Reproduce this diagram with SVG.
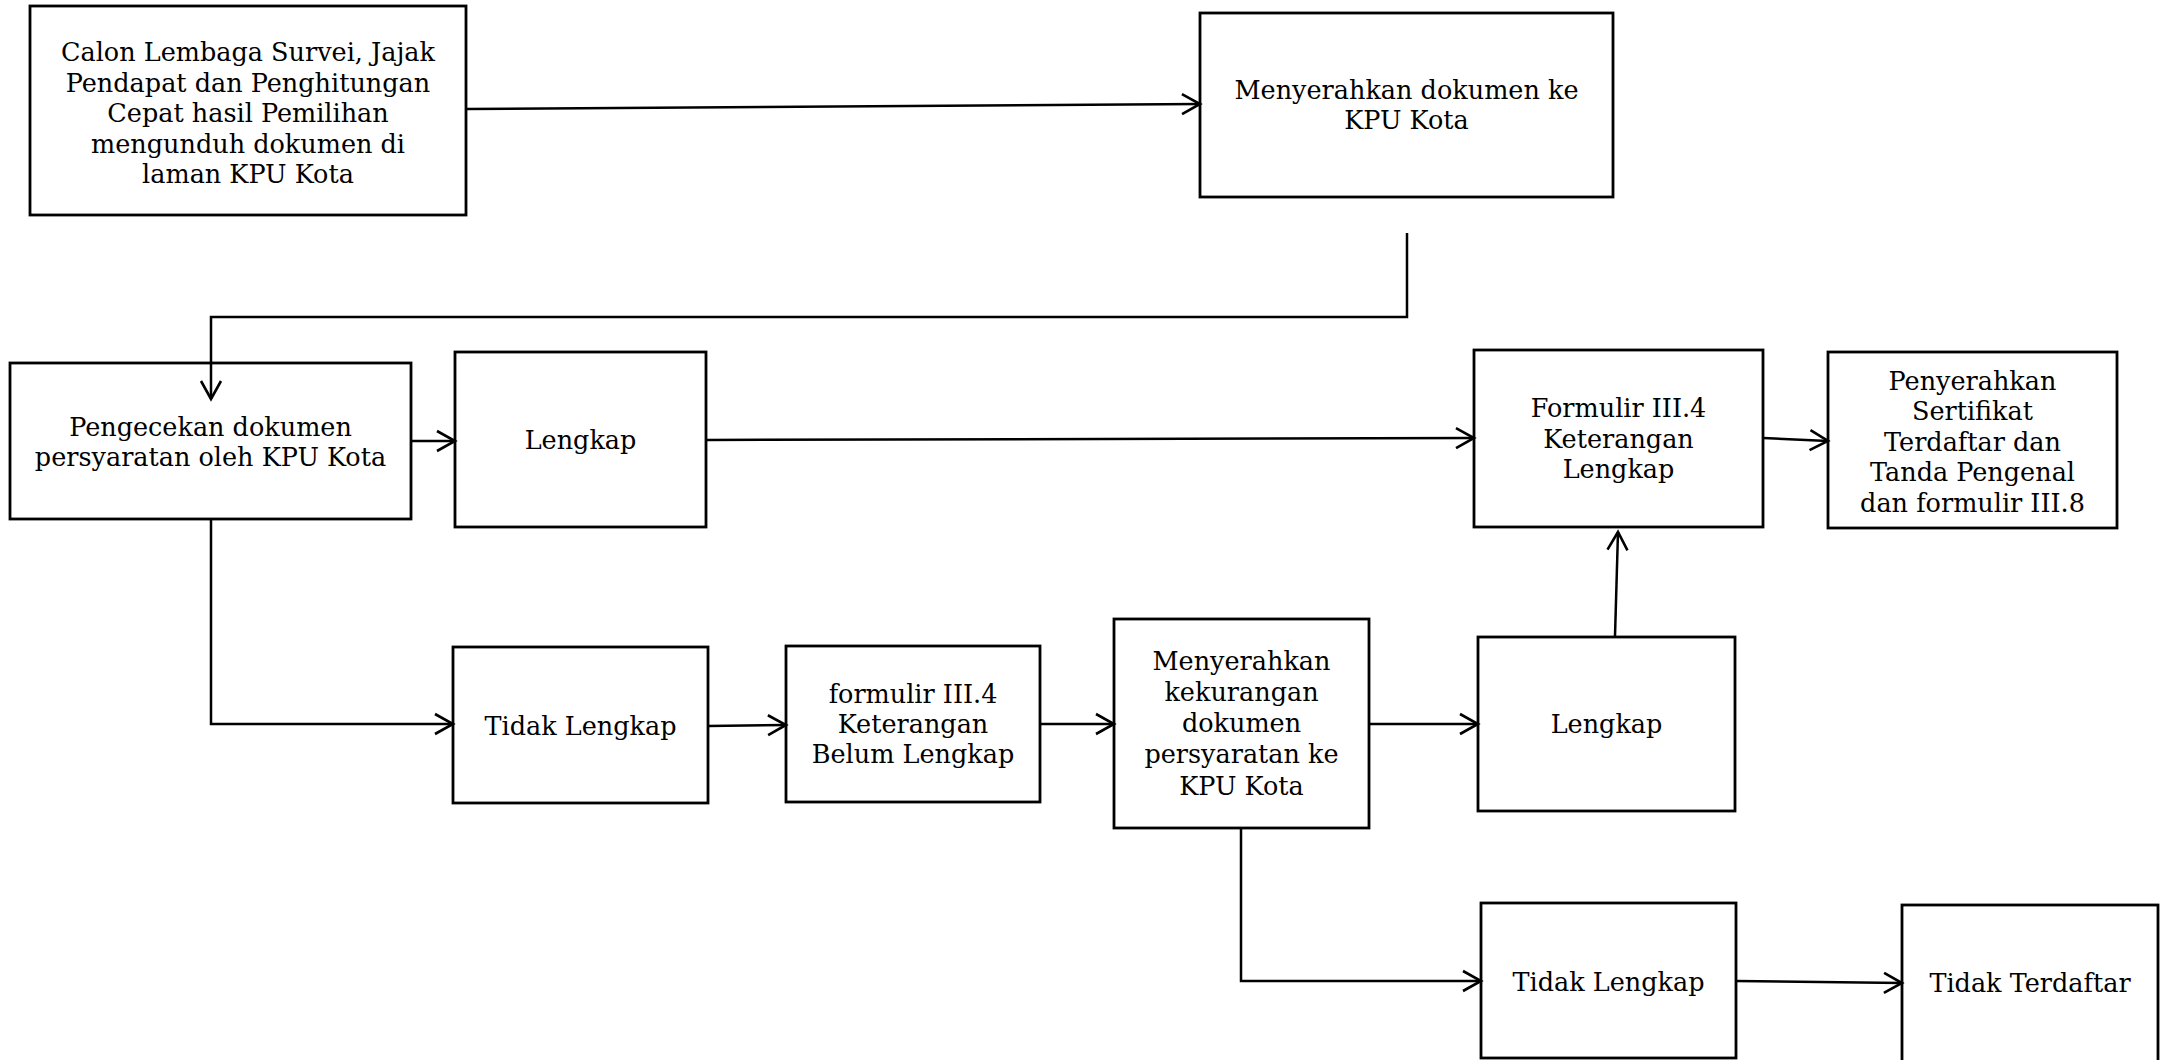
<svg xmlns="http://www.w3.org/2000/svg" width="2163" height="1060" viewBox="0 0 2163 1060">
<style>
.box{fill:#fff;stroke:#000;stroke-width:2.8}
.t{font-family:"DejaVu Serif","Liberation Serif",serif;font-size:25.5px;fill:#000;text-anchor:middle}
.c{fill:none;stroke:#000;stroke-width:2.5;marker-end:url(#ah)}
</style>
<defs>
<marker id="ah" markerUnits="userSpaceOnUse" viewBox="-22 -13 26 26" markerWidth="26" markerHeight="26" refX="0" refY="0" orient="auto" overflow="visible">
<path d="M-18,-10 L0,0 L-18,10" fill="none" stroke="#000" stroke-width="2.6"/>
</marker>
</defs>
<rect width="2163" height="1060" fill="#fff"/>
<g id="n1">
<rect class="box" x="30" y="6" width="436" height="209"/>
<text class="t" x="248" y="61">Calon Lembaga Survei, Jajak</text>
<text class="t" x="248" y="92">Pendapat dan Penghitungan</text>
<text class="t" x="248" y="122">Cepat hasil Pemilihan</text>
<text class="t" x="248" y="153">mengunduh dokumen di</text>
<text class="t" x="248" y="183">laman KPU Kota</text>
</g>
<g id="n2">
<rect class="box" x="1200" y="13" width="413" height="184"/>
<text class="t" x="1406.5" y="99">Menyerahkan dokumen ke</text>
<text class="t" x="1406.5" y="129">KPU Kota</text>
</g>
<g id="n3">
<rect class="box" x="10" y="363" width="401" height="156"/>
<text class="t" x="210.5" y="436">Pengecekan dokumen</text>
<text class="t" x="210.5" y="466">persyaratan oleh KPU Kota</text>
</g>
<g id="n4">
<rect class="box" x="455" y="352" width="251" height="175"/>
<text class="t" x="580.5" y="449">Lengkap</text>
</g>
<g id="n5">
<rect class="box" x="1474" y="350" width="289" height="177"/>
<text class="t" x="1618.5" y="417">Formulir III.4</text>
<text class="t" x="1618.5" y="448">Keterangan</text>
<text class="t" x="1618.5" y="478">Lengkap</text>
</g>
<g id="n6">
<rect class="box" x="1828" y="352" width="289" height="176"/>
<text class="t" x="1972.5" y="390">Penyerahkan</text>
<text class="t" x="1972.5" y="420">Sertifikat</text>
<text class="t" x="1972.5" y="451">Terdaftar dan</text>
<text class="t" x="1972.5" y="481">Tanda Pengenal</text>
<text class="t" x="1972.5" y="512">dan formulir III.8</text>
</g>
<g id="n7">
<rect class="box" x="453" y="647" width="255" height="156"/>
<text class="t" x="580.5" y="735">Tidak Lengkap</text>
</g>
<g id="n8">
<rect class="box" x="786" y="646" width="254" height="156"/>
<text class="t" x="913" y="703">formulir III.4</text>
<text class="t" x="913" y="733">Keterangan</text>
<text class="t" x="913" y="763">Belum Lengkap</text>
</g>
<g id="n9">
<rect class="box" x="1114" y="619" width="255" height="209"/>
<text class="t" x="1241.5" y="670">Menyerahkan</text>
<text class="t" x="1241.5" y="701">kekurangan</text>
<text class="t" x="1241.5" y="732">dokumen</text>
<text class="t" x="1241.5" y="763">persyaratan ke</text>
<text class="t" x="1241.5" y="795">KPU Kota</text>
</g>
<g id="n10">
<rect class="box" x="1478" y="637" width="257" height="174"/>
<text class="t" x="1606.5" y="733">Lengkap</text>
</g>
<g id="n11">
<rect class="box" x="1481" y="903" width="255" height="155"/>
<text class="t" x="1608.5" y="991">Tidak Lengkap</text>
</g>
<g id="n12">
<rect class="box" x="1902" y="905" width="256" height="170"/>
<text class="t" x="2030" y="992">Tidak Terdaftar</text>
</g>
<g id="connectors">
<path class="c" d="M467,109 L1200,104"/>
<path class="c" d="M1407,233 L1407,317 L211,317 L211,399"/>
<path class="c" d="M412,441 L455,441"/>
<path class="c" d="M706,440 L1474,438"/>
<path class="c" d="M1763,438 L1828,441"/>
<path class="c" d="M211,520 L211,724 L453,724"/>
<path class="c" d="M708,726 L786,725"/>
<path class="c" d="M1040,724 L1114,724"/>
<path class="c" d="M1369,724 L1478,724"/>
<path class="c" d="M1615,636 L1618,532"/>
<path class="c" d="M1241,828 L1241,981 L1481,981"/>
<path class="c" d="M1736,981 L1902,983"/>
</g>
</svg>
